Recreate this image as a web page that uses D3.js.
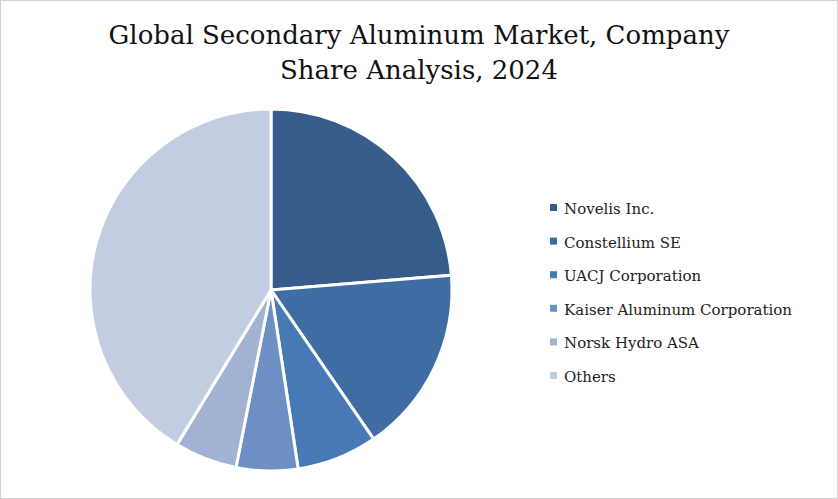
<!DOCTYPE html>
<html><head><meta charset="utf-8">
<script src="https://cdn.jsdelivr.net/npm/d3@7"></script>
<style>body{margin:0;background:#fff}</style></head>
<body><svg id="c" width="838" height="499"></svg>
<script>
const categories=["Novelis Inc.","Constellium SE","UACJ Corporation","Kaiser Aluminum Corporation","Norsk Hydro ASA","Others"];
const shares=[23.7,16.7,7.2,5.5,5.6,41.3];
const colors=["#375c8c","#3f6ca3","#4679b6","#6e8fc4","#a2b2d2","#c3cde1"];
const svg=d3.select("#c");
svg.append("rect").attr("x",0.5).attr("y",0.5).attr("width",837).attr("height",498).attr("fill","#fff").attr("stroke","#d0d0d0");
const t=svg.append("text").attr("text-anchor","middle").attr("font-family","DejaVu Serif, serif").attr("font-size",26).attr("fill","#111");
t.append("tspan").attr("x",419).attr("y",44).text("Global Secondary Aluminum Market, Company");
t.append("tspan").attr("x",419).attr("y",79).text("Share Analysis, 2024");
const pie=d3.pie().sort(null).value(d=>d);
const arc=d3.arc().innerRadius(0).outerRadius(181);
const g=svg.append("g").attr("transform","translate(271,290)");
g.selectAll("path").data(pie(shares)).join("path").attr("d",arc).attr("fill",(d,i)=>colors[i]).attr("stroke","#fff").attr("stroke-width",3);
const y=d3.scalePoint().domain(categories).range([208,376]);
const lg=svg.append("g");
lg.selectAll("rect").data(categories).join("rect").attr("x",550).attr("y",d=>y(d)-4).attr("width",7).attr("height",7).attr("fill",(d,i)=>colors[i]);
lg.selectAll("text").data(categories).join("text").attr("x",564).attr("y",d=>y(d)+6).attr("font-family","DejaVu Serif, serif").attr("font-size",15).attr("fill","#222").text(d=>d);
</script></body></html>
